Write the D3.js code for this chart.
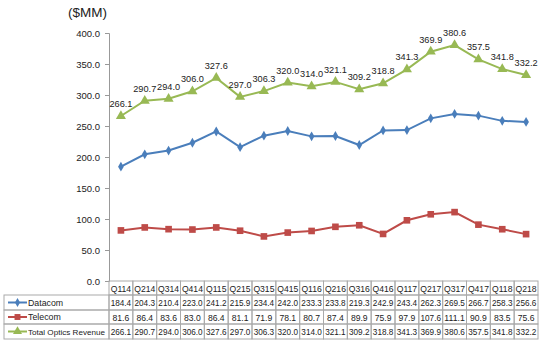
<!DOCTYPE html>
<html><head><meta charset="utf-8">
<script src="https://cdn.jsdelivr.net/npm/d3@7"></script>
<style>body{margin:0;background:#fff}svg{display:block;font-family:"Liberation Sans",Arial,sans-serif}</style>
</head><body><svg id="c" width="542" height="340"></svg>
<script>
const quarters = ["Q114","Q214","Q314","Q414","Q115","Q215","Q315","Q415","Q116","Q216","Q316","Q416","Q117","Q217","Q317","Q417","Q118","Q218"];
const datacom = [184.4,204.3,210.4,223.0,241.2,215.9,234.4,242.0,233.3,233.8,219.3,242.9,243.4,262.3,269.5,266.7,258.3,256.6];
const telecom = [81.6,86.4,83.6,83.0,86.4,81.1,71.9,78.1,80.7,87.4,89.9,75.9,97.9,107.6,111.1,90.9,83.5,75.6];
const total = [266.1,290.7,294.0,306.0,327.6,297.0,306.3,320.0,314.0,321.1,309.2,318.8,341.3,369.9,380.6,357.5,341.8,332.2];
const yTicks = [0,50,100,150,200,250,300,350,400];
const seriesNames = ["Datacom","Telecom","Total Optics Revenue"];
const seriesColors = ["#4a7ebb","#be4b48","#98b954"];

const svg = d3.select("#c");
const x0 = 109, x1 = 538, yTop = 33, yBot = 281;
const x = d3.scaleBand().domain(quarters).range([x0, x1]);
const y = d3.scaleLinear().domain([0,400]).range([yBot, yTop]);
const cx = q => x(q) + x.bandwidth()/2;
const fmt = d3.format(".1f");

svg.append("text").attr("x",68).attr("y",17).attr("font-size",13.5).attr("fill","#222").text("($MM)");

const ax = svg.append("g").attr("transform",`translate(${x0},0)`)
  .call(d3.axisLeft(y).tickValues(yTicks).tickFormat(fmt).tickSize(4).tickPadding(5));
ax.select(".domain").attr("stroke","#999");
ax.selectAll(".tick line").attr("stroke","#999");
ax.selectAll("text").attr("font-size",9.5).attr("fill","#222");

const series = [datacom, telecom, total];
const line = d3.line().x((d,i)=>cx(quarters[i])).y(d=>y(d));
const sym = [d3.symbolDiamond, d3.symbolSquare, d3.symbolTriangle];
const symSize = [28, 44, 44];

series.forEach((s,k)=>{
  svg.append("path").datum(s).attr("d",line).attr("fill","none")
    .attr("stroke",seriesColors[k]).attr("stroke-width",2);
  svg.append("g").selectAll("path").data(s).join("path")
    .attr("transform",(d,i)=>`translate(${cx(quarters[i])},${y(d)})`)
    .attr("d",d3.symbol(sym[k],symSize[k])).attr("fill",seriesColors[k]);
});

svg.append("g").selectAll("text").data(total).join("text")
  .attr("x",(d,i)=>cx(quarters[i])).attr("y",d=>y(d)-9)
  .attr("text-anchor","middle").attr("font-size",9.6).attr("fill","#222")
  .attr("textLength",23).attr("lengthAdjust","spacingAndGlyphs")
  .text(d=>fmt(d));

const rowTop = [281,295,310,324,339];
const tb = svg.append("g").attr("stroke","#aaa").attr("fill","none").attr("stroke-width",1);
quarters.forEach(q=>{
  tb.append("rect").attr("x",x(q)).attr("y",rowTop[0]).attr("width",x.bandwidth()).attr("height",rowTop[1]-rowTop[0]);
});
for(let r=1;r<4;r++){
  tb.append("rect").attr("x",4).attr("y",rowTop[r]).attr("width",x0-4).attr("height",rowTop[r+1]-rowTop[r]);
  quarters.forEach(q=>{
    tb.append("rect").attr("x",x(q)).attr("y",rowTop[r]).attr("width",x.bandwidth()).attr("height",rowTop[r+1]-rowTop[r]);
  });
}
const tt = svg.append("g").attr("font-size",8.6).attr("fill","#222").attr("text-anchor","middle");
tt.selectAll("text.h").data(quarters).join("text").attr("class","h")
  .attr("x",q=>cx(q)).attr("y",rowTop[0]+10.5).text(q=>q);
series.forEach((s,k)=>{
  tt.append("g").selectAll("text").data(s).join("text")
    .attr("x",(d,i)=>cx(quarters[i])).attr("y",rowTop[k+1]+10.5)
    .each(function(d){ if (fmt(d).length>4) d3.select(this).attr("textLength",20.5).attr("lengthAdjust","spacingAndGlyphs"); })
    .text(d=>fmt(d));
  const ym = (rowTop[k+1]+rowTop[k+2])/2;
  svg.append("line").attr("x1",8).attr("x2",27).attr("y1",ym).attr("y2",ym)
    .attr("stroke",seriesColors[k]).attr("stroke-width",2);
  svg.append("path").attr("transform",`translate(17.5,${ym})`)
    .attr("d",d3.symbol(sym[k],symSize[k]*0.8)).attr("fill",seriesColors[k]);
  svg.append("text").attr("x",28).attr("y",ym+3.2).attr("font-size",k===2?8.1:8.8).attr("fill","#222").text(seriesNames[k]);
});
</script></body></html>
